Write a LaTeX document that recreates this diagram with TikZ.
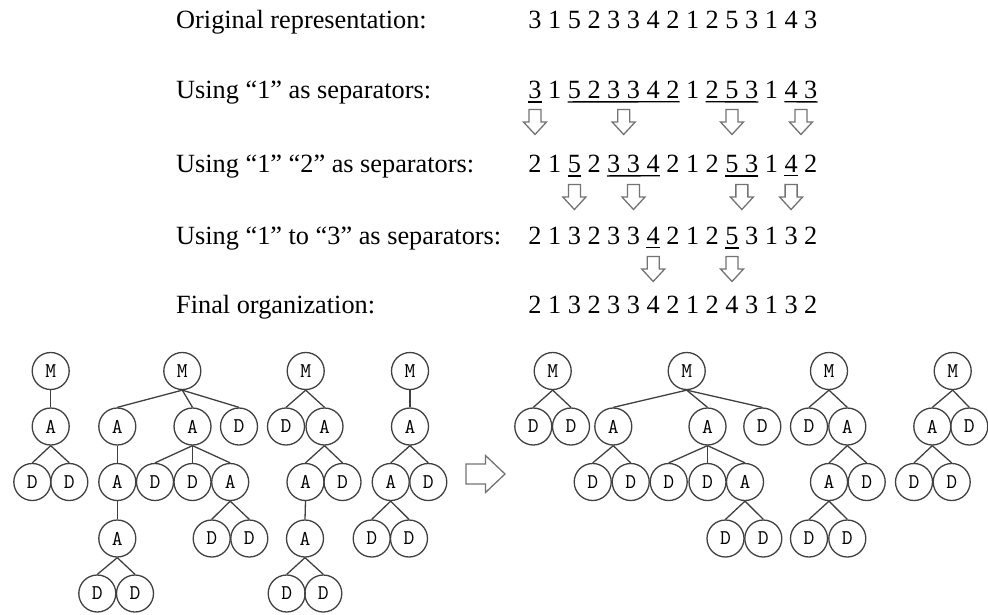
\documentclass[tikz,border=0pt]{standalone}
\usepackage{fontspec}
\setmainfont{Liberation Serif}
\newcommand\seqfont{\fontsize{26.3}{31}\selectfont}
\newcommand\pitch{19.7}

\begin{document}
\begin{tikzpicture}[
  x=1pt, y=-1pt,
  lab/.style={anchor=base west, inner sep=0pt, font=\seqfont},
  dig/.style={anchor=base, inner sep=0pt, font=\seqfont},
  uline/.style={line width=1.4pt},
  hollow/.style={draw=black!55, line width=1.3pt},
  hollowdown/.pic={\draw[hollow] (-6,-12.5) -- (6,-12.5) -- (6,0) -- (11.5,0)
    -- (0,12.5) -- (-11.5,0) -- (-6,0) -- cycle;},
  hollowright/.pic={\draw[hollow] (-19.5,-10) -- (0,-10) -- (0,-18.5) -- (19.5,0)
    -- (0,18.5) -- (0,10) -- (-19.5,10) -- cycle;},
  vtx/.style={circle, draw=black!75, line width=1.3pt, minimum size=37pt,
    inner sep=0pt, font={\ttfamily\fontsize{21}{22}\selectfont}},
  link/.style={draw=black!75, line width=1.3pt}
]
\useasboundingbox (0,0) rectangle (988,614);

% the five sequences
\node[lab] (l1) at (176,28) {Original representation:};
\node[lab] (l2) at (176,98) {Using “1” as separators:};
\node[lab] (l3) at (176,172) {Using “1” “2” as separators:};
\node[lab] (l4) at (176,244) {Using “1” to “3” as separators:};
\node[lab] (l5) at (176,313) {Final organization:};

\foreach \d [count=\i from 0] in {3,1,5,2,3,3,4,2,1,2,5,3,1,4,3}
  \node[dig] (o\i) at ({535+\pitch*\i},28) {\d};
\foreach \d [count=\i from 0] in {3,1,5,2,3,3,4,2,1,2,5,3,1,4,3}
  \node[dig] (s\i) at ({535+\pitch*\i},98) {\d};
\foreach \d [count=\i from 0] in {2,1,5,2,3,3,4,2,1,2,5,3,1,4,2}
  \node[dig] (t\i) at ({535+\pitch*\i},172) {\d};
\foreach \d [count=\i from 0] in {2,1,3,2,3,3,4,2,1,2,5,3,1,3,2}
  \node[dig] (u\i) at ({535+\pitch*\i},244) {\d};
\foreach \d [count=\i from 0] in {2,1,3,2,3,3,4,2,1,2,4,3,1,3,2}
  \node[dig] (f\i) at ({535+\pitch*\i},313) {\d};

% underlined groups
\foreach \r/\a/\b in {s/0/0, s/2/7, s/9/11, s/13/14,
                      t/2/2, t/4/6, t/10/11, t/13/13,
                      u/6/6, u/10/10}
  \draw[uline] ([yshift=-3.5pt]\r\a.south west) -- ([yshift=-3.5pt]\r\b.south east);

% hollow arrows between the rows
\foreach \c in {0, 4.5, 10, 13.5}
  \pic at ({535+\pitch*\c},122) {hollowdown};
\foreach \c in {2, 5, 10.5, 13}
  \pic at ({535+\pitch*\c},197) {hollowdown};
\foreach \c in {6, 10}
  \pic at ({535+\pitch*\c},269) {hollowdown};

% trees before
\node[vtx] (p1m) at (50.7,371) {M};
\node[vtx] (p1a) at (50.7,426.5) {A};
\node[vtx] (p1d1) at (32.3,482) {D};
\node[vtx] (p1d2) at (69.3,482) {D};
\draw[link] (p1m.south) -- (p1a.north);
\foreach \c in {d1,d2} \draw[link] (p1a.south) -- (p1\c.north);

\node[vtx] (p2m) at (182.3,371) {M};
\node[vtx] (p2a1) at (117.3,426.5) {A};
\node[vtx] (p2a2) at (192.5,426.5) {A};
\node[vtx] (p2d1) at (239,426.5) {D};
\node[vtx] (p2a3) at (117.3,482) {A};
\node[vtx] (p2d2) at (155,482) {D};
\node[vtx] (p2d3) at (192.5,482) {D};
\node[vtx] (p2a4) at (230.2,482) {A};
\node[vtx] (p2a5) at (117.3,538.5) {A};
\node[vtx] (p2d4) at (211.7,538.5) {D};
\node[vtx] (p2d5) at (249.3,538.5) {D};
\node[vtx] (p2d6) at (97.3,593.5) {D};
\node[vtx] (p2d7) at (135,593.5) {D};
\foreach \c in {a1,a2,d1} \draw[link] (p2m.south) -- (p2\c.north);
\draw[link] (p2a1.south) -- (p2a3.north);
\foreach \c in {d2,d3,a4} \draw[link] (p2a2.south) -- (p2\c.north);
\draw[link] (p2a3.south) -- (p2a5.north);
\foreach \c in {d4,d5} \draw[link] (p2a4.south) -- (p2\c.north);
\foreach \c in {d6,d7} \draw[link] (p2a5.south) -- (p2\c.north);

\node[vtx] (p3m) at (305.7,371) {M};
\node[vtx] (p3d1) at (286,426.5) {D};
\node[vtx] (p3a1) at (324.5,426.5) {A};
\node[vtx] (p3a2) at (305.5,482) {A};
\node[vtx] (p3d2) at (342.5,482) {D};
\node[vtx] (p3a3) at (305,538.5) {A};
\node[vtx] (p3d3) at (286.7,593.5) {D};
\node[vtx] (p3d4) at (323.3,593.5) {D};
\foreach \c in {d1,a1} \draw[link] (p3m.south) -- (p3\c.north);
\foreach \c in {a2,d2} \draw[link] (p3a1.south) -- (p3\c.north);
\draw[link] (p3a2.south) -- (p3a3.north);
\foreach \c in {d3,d4} \draw[link] (p3a3.south) -- (p3\c.north);

\node[vtx] (p4m) at (410,371) {M};
\node[vtx] (p4a1) at (410,426.5) {A};
\node[vtx] (p4a2) at (390.7,482) {A};
\node[vtx] (p4d1) at (428.3,482) {D};
\node[vtx] (p4d2) at (371.7,538.5) {D};
\node[vtx] (p4d3) at (409,538.5) {D};
\draw[link] (p4m.south) -- (p4a1.north);
\foreach \c in {a2,d1} \draw[link] (p4a1.south) -- (p4\c.north);
\foreach \c in {d2,d3} \draw[link] (p4a2.south) -- (p4\c.north);

\pic at (485.5,474) {hollowright};

% trees after
\node[vtx] (q1m) at (552.7,371) {M};
\node[vtx] (q1d1) at (533.3,426.5) {D};
\node[vtx] (q1d2) at (571,426.5) {D};
\foreach \c in {d1,d2} \draw[link] (q1m.south) -- (q1\c.north);

\node[vtx] (q2m) at (686.7,371) {M};
\node[vtx] (q2a1) at (613.3,426.5) {A};
\node[vtx] (q2a2) at (707.5,426.5) {A};
\node[vtx] (q2d1) at (762.3,426.5) {D};
\node[vtx] (q2d2) at (592.7,482) {D};
\node[vtx] (q2d3) at (630.7,482) {D};
\node[vtx] (q2d4) at (668.7,482) {D};
\node[vtx] (q2d5) at (707.5,482) {D};
\node[vtx] (q2a3) at (745,482) {A};
\node[vtx] (q2d6) at (725.5,538.5) {D};
\node[vtx] (q2d7) at (763.3,538.5) {D};
\foreach \c in {a1,a2,d1} \draw[link] (q2m.south) -- (q2\c.north);
\foreach \c in {d2,d3} \draw[link] (q2a1.south) -- (q2\c.north);
\foreach \c in {d4,d5,a3} \draw[link] (q2a2.south) -- (q2\c.north);
\foreach \c in {d6,d7} \draw[link] (q2a3.south) -- (q2\c.north);

\node[vtx] (q3m) at (829,371) {M};
\node[vtx] (q3d1) at (809,426.5) {D};
\node[vtx] (q3a1) at (847.3,426.5) {A};
\node[vtx] (q3a2) at (829,482) {A};
\node[vtx] (q3d2) at (866.7,482) {D};
\node[vtx] (q3d3) at (809,538.5) {D};
\node[vtx] (q3d4) at (847.3,538.5) {D};
\foreach \c in {d1,a1} \draw[link] (q3m.south) -- (q3\c.north);
\foreach \c in {a2,d2} \draw[link] (q3a1.south) -- (q3\c.north);
\foreach \c in {d3,d4} \draw[link] (q3a2.south) -- (q3\c.north);

\node[vtx] (q4m) at (952.7,371) {M};
\node[vtx] (q4a1) at (932.3,426.5) {A};
\node[vtx] (q4d1) at (969.3,426.5) {D};
\node[vtx] (q4d2) at (914,482) {D};
\node[vtx] (q4d3) at (951.7,482) {D};
\foreach \c in {a1,d1} \draw[link] (q4m.south) -- (q4\c.north);
\foreach \c in {d2,d3} \draw[link] (q4a1.south) -- (q4\c.north);
\end{tikzpicture}
\end{document}
